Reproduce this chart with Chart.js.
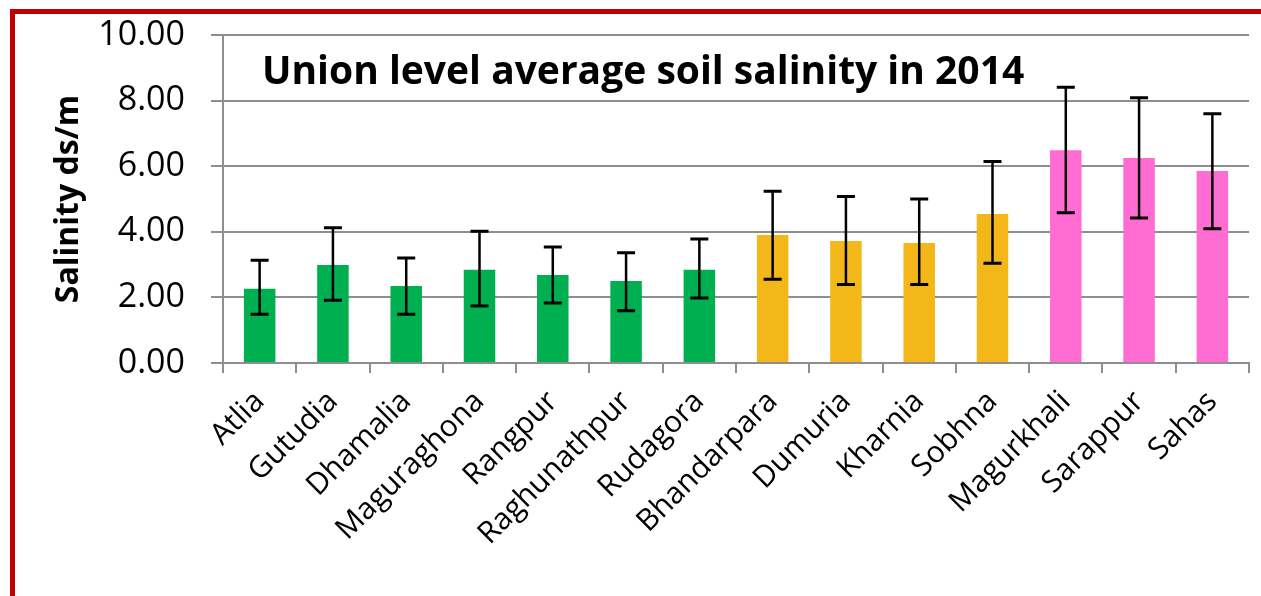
<!doctype html>
<html lang="en">
  <head>
    <meta charset="UTF-8" />
    <title>Union level average soil salinity in 2014</title>
    <script src="https://cdn.jsdelivr.net/npm/chart.js@4.4.0/dist/chart.umd.min.js"></script>
    <style>
      html, body { margin: 0; padding: 0; background: #fff; }
      #wrap { position: relative; width: 1261px; height: 596px; overflow: hidden; }
      #frame {
        position: absolute; left: 10px; top: 9px; right: -10px; bottom: -10px;
        border-left: 5px solid #C00000; border-top: 5px solid #C00000;
        pointer-events: none;
      }
    </style>
  </head>
  <body>
    <div id="wrap">
      <canvas id="myChart" width="1261" height="596"></canvas>
      <div id="frame"></div>
    </div>

    <script>
      // data
      const unions = ['Atlia', 'Gutudia', 'Dhamalia', 'Maguraghona', 'Rangpur', 'Raghunathpur', 'Rudagora',
        'Bhandarpara', 'Dumuria', 'Kharnia', 'Sobhna', 'Magurkhali', 'Sarappur', 'Sahas'];
      const salinity = [2.26, 2.99, 2.35, 2.84, 2.68, 2.50, 2.84, 3.90, 3.72, 3.66, 4.54, 6.49, 6.25, 5.85];
      const errTop = [3.13, 4.12, 3.20, 4.02, 3.54, 3.36, 3.78, 5.24, 5.08, 5.00, 6.14, 8.41, 8.09, 7.60];
      const errBottom = [1.49, 1.91, 1.49, 1.74, 1.83, 1.59, 1.98, 2.55, 2.39, 2.39, 3.04, 4.58, 4.42, 4.09];
      const zone = [0, 0, 0, 0, 0, 0, 0, 1, 1, 1, 1, 2, 2, 2];
      const yTicks = [0, 2, 4, 6, 8, 10];

      const zoneColors = ['#00B050', '#F4B71A', '#FF6DD3'];
      const gridGray = '#8E8E8E';

      // error bars drawn from the y scale
      const errorBars = {
        id: 'errorBars',
        afterDatasetsDraw(chart) {
          const ctx = chart.ctx;
          const y = chart.scales.y;
          const meta = chart.getDatasetMeta(0);
          ctx.save();
          ctx.strokeStyle = '#000';
          meta.data.forEach((bar, i) => {
            const yt = y.getPixelForValue(errTop[i]);
            const yb = y.getPixelForValue(errBottom[i]);
            ctx.lineWidth = 2.5;
            ctx.beginPath();
            ctx.moveTo(bar.x, yt);
            ctx.lineTo(bar.x, yb);
            ctx.stroke();
            ctx.lineWidth = 3;
            ctx.beginPath();
            ctx.moveTo(bar.x - 9, yt);
            ctx.lineTo(bar.x + 9, yt);
            ctx.moveTo(bar.x - 9, yb);
            ctx.lineTo(bar.x + 9, yb);
            ctx.stroke();
          });
          ctx.restore();
        }
      };

      // title sits inside the plot area
      const innerTitle = {
        id: 'innerTitle',
        afterDraw(chart) {
          const ctx = chart.ctx;
          ctx.save();
          ctx.fillStyle = '#000';
          ctx.font = 'bold 39px "Open Sans"';
          ctx.textBaseline = 'alphabetic';
          ctx.fillText('Union level average soil salinity in 2014', chart.chartArea.left + 39, 84, 768);
          ctx.restore();
        }
      };

      const ctx = document.getElementById('myChart').getContext('2d');
      const myChart = new Chart(ctx, {
        type: 'bar',
        data: {
          labels: unions,
          datasets: [{
            label: 'Salinity',
            data: salinity,
            backgroundColor: zone.map(z => zoneColors[z]),
            borderWidth: 0,
            categoryPercentage: 1,
            barPercentage: 0.43
          }]
        },
        options: {
          responsive: false,
          animation: false,
          layout: { padding: { left: 0, top: 35, right: 12, bottom: 0 } },
          plugins: {
            legend: { display: false },
            tooltip: { enabled: false }
          },
          scales: {
            x: {
              afterFit(scale) { scale.height = 233; },
              grid: { drawOnChartArea: false, drawTicks: true, tickLength: 10, color: gridGray, lineWidth: 2 },
              border: { color: gridGray, width: 2 },
              ticks: {
                autoSkip: false,
                minRotation: 45,
                maxRotation: 45,
                padding: 11,
                color: '#000',
                font: { family: '"Open Sans"', size: 30 }
              }
            },
            y: {
              min: 0,
              max: 10,
              afterFit(scale) {
                scale.width = 223;
                scale.paddingTop = 0;
                scale.paddingBottom = 0;
              },
              afterBuildTicks(scale) { scale.ticks = yTicks.map(v => ({ value: v })); },
              grid: { color: gridGray, lineWidth: 2, tickLength: 12 },
              border: { color: gridGray, width: 2 },
              ticks: {
                padding: 26,
                color: '#000',
                font: { family: '"Open Sans"', size: 34 },
                callback: v => v.toFixed(2)
              },
              title: {
                display: true,
                text: 'Salinity ds/m',
                color: '#000',
                padding: { top: 50, bottom: 0 },
                font: { family: '"Open Sans"', size: 32, weight: 'bold' }
              }
            }
          }
        },
        plugins: [errorBars, innerTitle]
      });
    </script>
  </body>
</html>
